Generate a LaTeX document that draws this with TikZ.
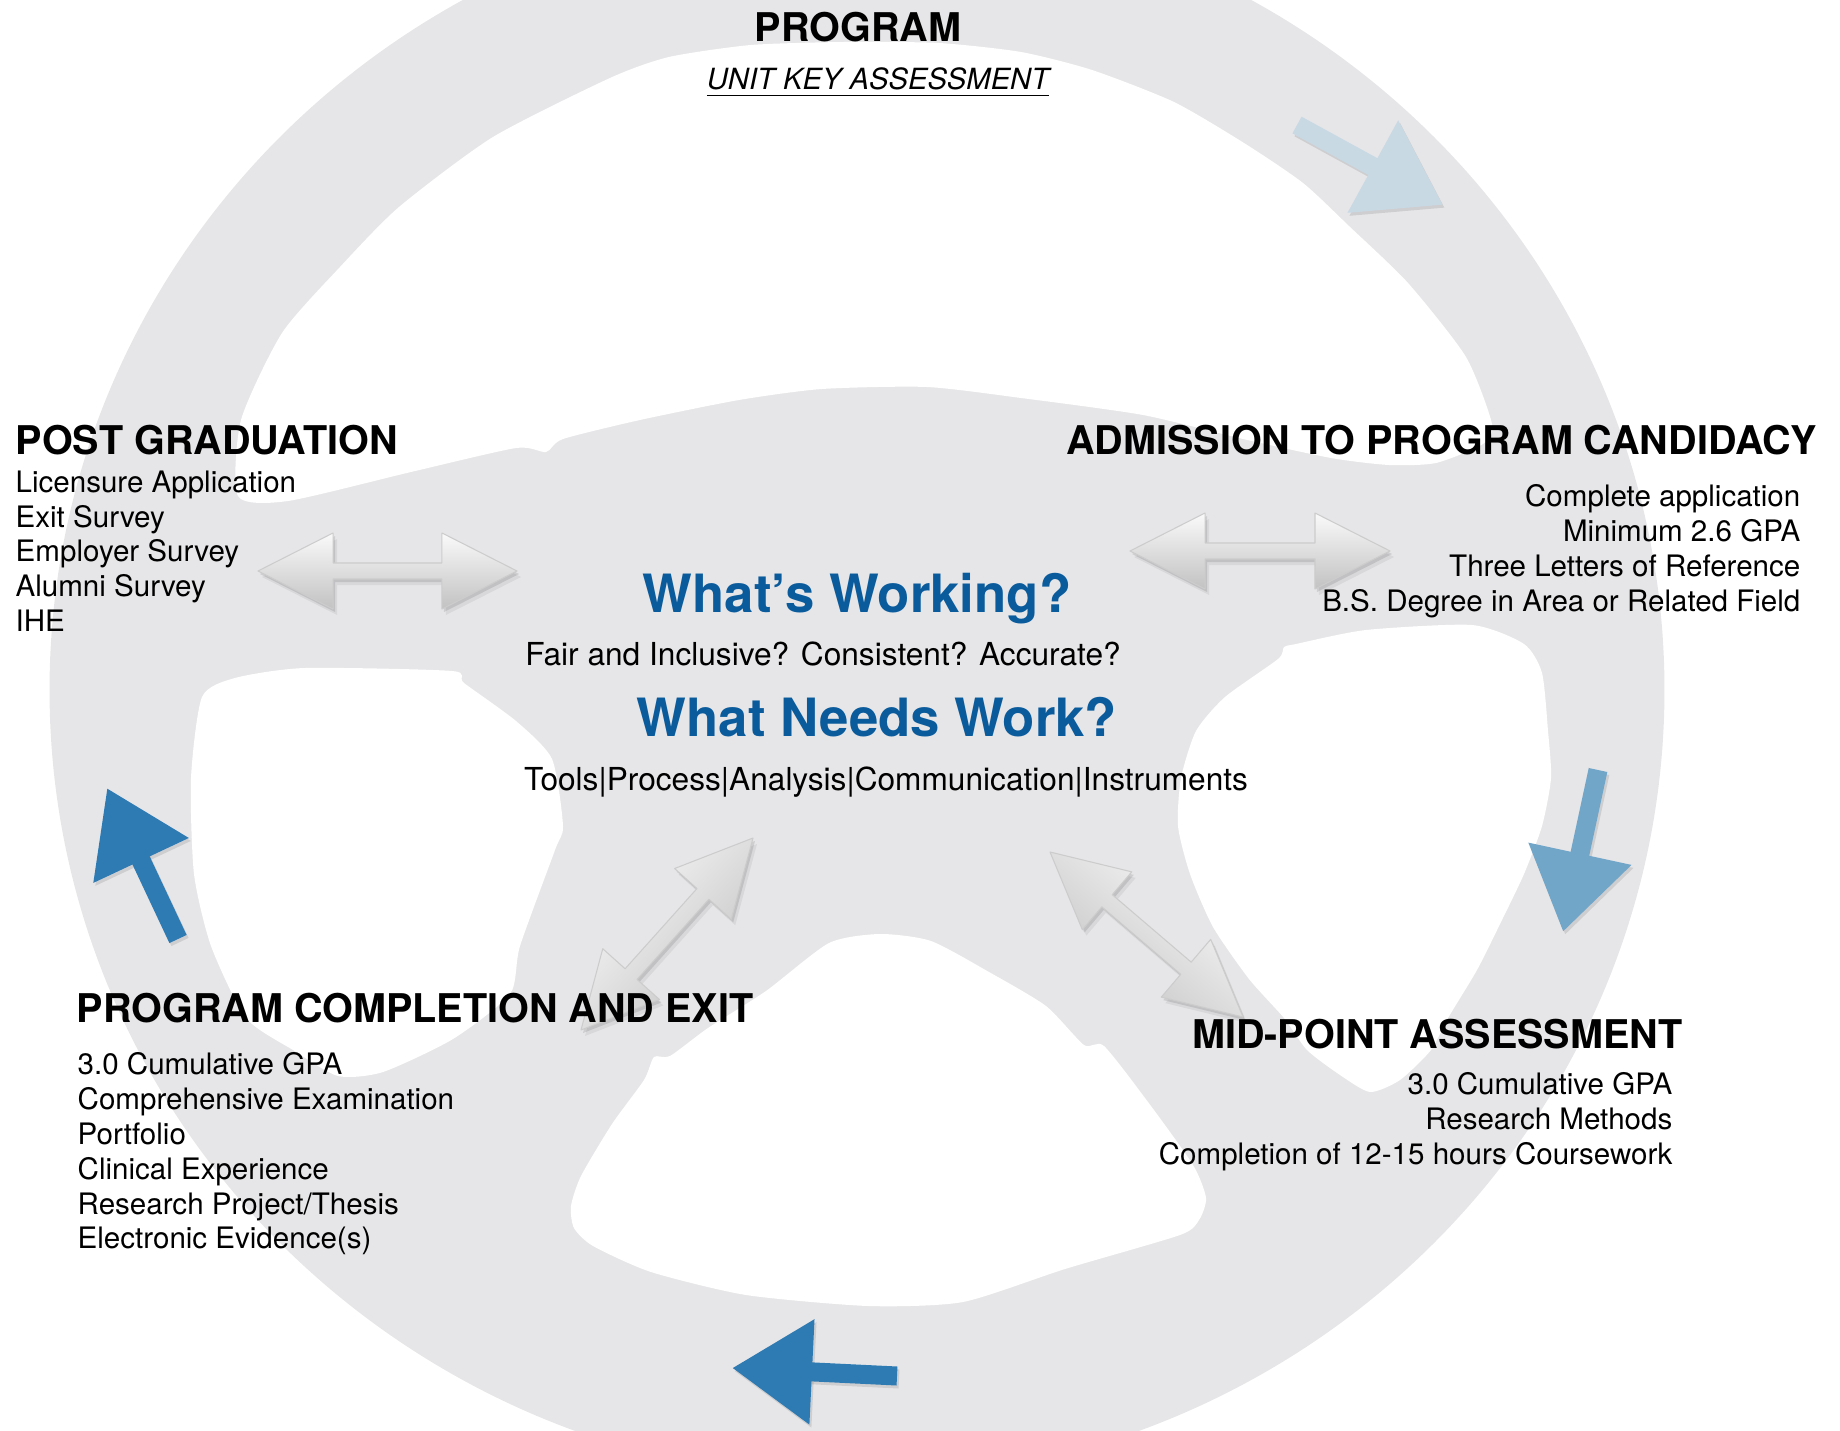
\documentclass[tikz,border=0pt]{standalone}
\usepackage{fontspec}
\setmainfont{TeX Gyre Heros}
\usepackage{xcolor}
\usetikzlibrary{
    arrows.meta,
    calc,
    positioning
}
\definecolor{ringgray}{HTML}{E6E6E8}
\definecolor{askblue}{HTML}{0A5B9C}
\definecolor{flowdark}{HTML}{2E7AB2}
\definecolor{flowmid}{HTML}{72A6C9}
\definecolor{flowpale}{HTML}{C9D9E4}

\begin{document}
\begin{tikzpicture}[x=0.01cm, y=-0.01cm,
    head/.style={font=\bfseries\fontsize{11.25}{13}\selectfont, inner sep=0pt},
    items/.style={font=\fontsize{8.4}{9.9}\selectfont, inner sep=0pt},
    question/.style={font=\bfseries\fontsize{15}{18}\selectfont, text=askblue, inner sep=0pt},
    prompt/.style={font=\fontsize{9}{11}\selectfont, inner sep=0pt},
    flow/.style={line width=0.19cm, -{Triangle[length=0.8cm, width=1cm]}},
    softshadow/.style={black, opacity=0.10, transform canvas={xshift=0.02cm, yshift=-0.03cm}},
    faintshadow/.style={black, opacity=0.06, transform canvas={xshift=0.04cm, yshift=-0.06cm}}]
    \useasboundingbox (0,0) rectangle (1840,1431);
    % wheel
    \begin{scope}
        \clip (0,0) rectangle (1840,1431);
        \fill[ringgray] (857,690) ellipse [x radius=8.07cm, y radius=7.9cm];
        \fill[white] plot[smooth cycle, tension=0.4] coordinates {
            (845,42) (939,43) (1021,52) (1092,70) (1174,102) (1244,143) (1303,183)
            (1350,227) (1408,283) (1466,357) (1492,424) (1483,444) (1436,463)
            (1389,465) (1331,458) (1243,439) (1143,415) (1021,398) (927,387)
            (822,389) (739,400) (640,420) (563,439) (546,452) (516,448) (411,472)
            (288,501) (238,496) (241,420) (282,333) (340,267) (399,207) (493,137)
            (610,78) (669,57) (751,45)};
        \fill[white] plot[smooth cycle, tension=0.4] coordinates {
            (202,697) (235,678) (305,668) (452,671) (464,683) (516,721) (552,759)
            (563,826) (555,850) (520,946) (510,994) (453,1039) (383,1072)
            (338,1076) (293,1050) (246,1018) (211,946) (194,874) (191,778)};
        \fill[white] plot[smooth cycle, tension=0.4] coordinates {
            (1284,647) (1296,644) (1366,630) (1472,625) (1524,644) (1542,673)
            (1548,731) (1551,778) (1542,826) (1524,874) (1501,922) (1477,970)
            (1448,1018) (1431,1050) (1400,1080) (1370,1092) (1340,1075) (1307,1050)
            (1284,1018) (1249,979) (1213,927) (1190,874) (1178,826) (1181,778)
            (1196,731) (1225,697) (1278,659)};
        \fill[white] plot[smooth cycle, tension=0.4] coordinates {
            (880,934) (931,941) (989,972) (1046,1006) (1084,1045) (1104,1046)
            (1148,1102) (1193,1165) (1206,1198) (1199,1220) (1180,1235) (1065,1269)
            (963,1302) (868,1306) (746,1295) (651,1272) (593,1246) (574,1228)
            (571,1206) (581,1176) (612,1124) (644,1080) (654,1057) (670,1056)
            (708,1028) (766,991) (829,943)};
    \end{scope}

    % ends of the two-way arrows
    \coordinate (pgL) at (258,571);
    \coordinate (pgR) at (517,571);
    \coordinate (adL) at (1130,551);
    \coordinate (adR) at (1390,551);
    \coordinate (pcL) at (581,1030);
    \coordinate (pcR) at (753,838);
    \coordinate (mpL) at (1050,852);
    \coordinate (mpR) at (1243,1017);
    \foreach \a/\b/\ang in {pgL/pgR/0, adL/adR/0, pcL/pcR/48, mpL/mpR/-40} {
        \coordinate (hA) at ($(\a)!0.75cm!(\b)$);
        \coordinate (hB) at ($(\b)!0.75cm!(\a)$);
        \foreach \look in {faintshadow, softshadow}
        \fill[\look]
            (\a) -- ($(hA)!0.38cm!90:(\b)$) -- ($(hA)!0.08cm!90:(\b)$)
            -- ($(hB)!0.08cm!-90:(\a)$) -- ($(hB)!0.38cm!-90:(\a)$) -- (\b)
            -- ($(hB)!0.38cm!90:(\a)$) -- ($(hB)!0.08cm!90:(\a)$)
            -- ($(hA)!0.08cm!-90:(\b)$) -- ($(hA)!0.38cm!-90:(\b)$) -- cycle;
        \shade[top color=white!96!gray, bottom color=gray!48, shading angle=\ang,
               draw=black!20, line width=0.3pt, line join=round]
            (\a) -- ($(hA)!0.38cm!90:(\b)$) -- ($(hA)!0.08cm!90:(\b)$)
            -- ($(hB)!0.08cm!-90:(\a)$) -- ($(hB)!0.38cm!-90:(\a)$) -- (\b)
            -- ($(hB)!0.38cm!90:(\a)$) -- ($(hB)!0.08cm!90:(\a)$)
            -- ($(hA)!0.08cm!-90:(\b)$) -- ($(hA)!0.38cm!-90:(\b)$) -- cycle;
    }

    % flow round the wheel
    \coordinate (ftTail) at (1297,125);
    \coordinate (ftTip) at (1443,205);
    \coordinate (frTail) at (1598,770);
    \coordinate (frTip) at (1563,932);
    \coordinate (fbTail) at (897,1376);
    \coordinate (fbTip) at (732,1368);
    \coordinate (flTail) at (178,939);
    \coordinate (flTip) at (107,788);
    \foreach \t/\h/\c in {ftTail/ftTip/flowpale, frTail/frTip/flowmid, fbTail/fbTip/flowdark, flTail/flTip/flowdark} {
        \draw[flow, softshadow] (\t) -- (\h);
        \draw[flow, \c] (\t) -- (\h);
    }

    % texts
    \node[head, anchor=base] (prog) at (858,42) {PROGRAM};
    \node[font=\itshape\fontsize{8.3}{10}\selectfont, inner sep=0pt, anchor=base] (unit) at (878,90) {\underline{UNIT KEY ASSESSMENT}};

    \node[head, anchor=base west] (pg) at (15,455) {POST GRADUATION};
    \node[items, align=left, anchor=north west] (pglist) at (15,470)
        {Licensure Application\\Exit Survey\\Employer Survey\\Alumni Survey\\IHE};

    \node[head, anchor=base east] (ad) at (1818,455) {ADMISSION TO PROGRAM CANDIDACY};
    \node[items, align=right, anchor=north east] (adlist) at (1801,484)
        {Complete application\\Minimum 2.6 GPA\\Three Letters of Reference\\B.S. Degree in Area or Related Field};

    \node[head, anchor=base west] (pc) at (76,1022) {PROGRAM COMPLETION AND EXIT};
    \node[items, align=left, anchor=north west] (pclist) at (77,1052)
        {3.0 Cumulative GPA\\Comprehensive Examination\\Portfolio\\Clinical Experience\\Research Project/Thesis\\Electronic Evidence(s)};

    \node[head, anchor=base east] (mp) at (1683,1048) {MID-POINT ASSESSMENT};
    \node[items, align=right, anchor=north east] (mplist) at (1673,1072)
        {3.0 Cumulative GPA\\Research Methods\\Completion of 12-15 hours Coursework};

    \node[question, anchor=base] (working) at (857,613) {What’s Working?};
    \node[prompt, anchor=base] (fair) at (823,666) {Fair and Inclusive? Consistent? Accurate?};
    \node[question, anchor=base] (needs) at (877,736) {What Needs Work?};
    \node[prompt, anchor=base] (tools) at (886,790) {Tools|Process|Analysis|Communication|Instruments};
\end{tikzpicture}
\end{document}
